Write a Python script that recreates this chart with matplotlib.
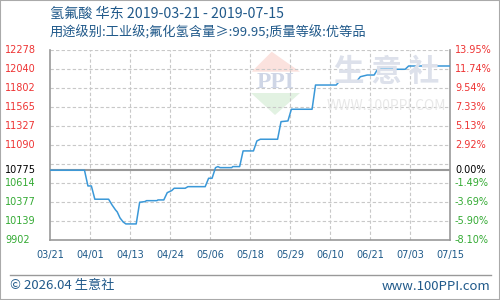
import numpy as np
import pandas as pd
import matplotlib
matplotlib.use("Agg")
import matplotlib.pyplot as plt
import matplotlib.dates as mdates
from matplotlib.patches import Polygon, Rectangle
from matplotlib.lines import Line2D

plt.rcParams['font.family'] = ['Noto Sans CJK SC', 'DejaVu Sans']

title = "氢氟酸 华东 2019-03-21 - 2019-07-15"
subtitle = "用途级别:工业级;氟化氢含量≥:99.95;质量等级:优等品"

# price points (day offset from 2019-03-21, price)
days = [0, 10, 11, 12, 13, 17, 18, 19, 19.5, 20.3, 21.2, 22, 25, 26, 27.5, 28, 31,
        31.3, 33, 34, 35.3, 36, 39.2, 40, 45, 46, 47, 48, 48.7, 49.3, 52.7, 53, 55,
        56, 59, 60, 61, 66, 67, 69, 70, 76, 77, 83, 84, 89, 90, 92, 94, 95, 103,
        104, 116]
prices = [10775, 10775, 10578, 10578, 10412, 10412, 10340, 10278, 10253, 10178,
          10128, 10103, 10103, 10374, 10382, 10394, 10394, 10403, 10403, 10494,
          10520, 10549, 10549, 10569, 10569, 10674, 10674, 10807, 10820, 10807,
          10807, 10820, 10820, 11016, 11016, 11141, 11162, 11162, 11382, 11391,
          11537, 11537, 11840, 11840, 11890, 11890, 11944, 11965, 11965, 12037,
          12037, 12078, 12078]

base = 10775
ymin, ymax = 9902, 12278
left_labels = ["12278", "12040", "11802", "11565", "11327", "11090",
               "10775", "10614", "10377", "10139", "9902"]
left_values = [12278, 12040, 11802, 11565, 11327, 11090, 10775, 10614, 10377, 10139, 9902]
right_labels = ["13.95%", "11.74%", "9.54%", "7.33%", "5.13%", "2.92%",
                "0.00%", "-1.49%", "-3.69%", "-5.90%", "-8.10%"]
xlabels = ["03/21", "04/01", "04/13", "04/24", "05/06", "05/18",
           "05/29", "06/10", "06/21", "07/03", "07/15"]

start = pd.Timestamp("2019-03-21")
end = pd.Timestamp("2019-07-15")
x = mdates.date2num(start) + np.array(days)
x0, x1 = mdates.date2num(start), mdates.date2num(end)

fig = plt.figure(figsize=(5, 3), dpi=100)
ax = fig.add_axes([0.1, 0.2, 0.8, 1 - 50 / 300 - 0.2])

# grid
for g in np.linspace(ymin, ymax, 11)[1:]:
    ax.axhline(g, color="#c8c8c8", lw=0.8, ls=(0, (3, 2)), zorder=1)
xt = np.linspace(x0, x1, 11)
for v in xt[1:-1]:
    ax.axvline(v, color="#c8c8c8", lw=0.8, ls=(0, (3, 2)), zorder=1)

# watermark (pixel coords, top-left origin)
def px(pts):
    return [[a, 300 - b] for a, b in pts]

ax.add_patch(Polygon(px([[251.7, 71.7], [300, 71.7], [271.7, 51.7]]), closed=True,
                     transform=None, fc="#fbe2de", ec="none", zorder=0))
ax.add_patch(Polygon(px([[251, 93], [300, 93], [275, 115]]), closed=True,
                     transform=None, fc="#e2f2e2", ec="none", zorder=0))
fig.text(276 / 500, 1 - 82 / 300, "PPI", color="#cfd6e6", fontsize=17,
         fontweight="bold", family="Liberation Serif", ha="center", va="center", zorder=0)
fig.text(387 / 500, 1 - 72 / 300, "生 意 社", color="#dde1eb", fontsize=22,
         fontweight="bold", ha="center", va="center", zorder=0)
fig.text(386 / 500, 1 - 106 / 300, "WWW.100PPI.COM", color="#e8e8e8", fontsize=10,
         ha="center", va="center", zorder=0)

ax.axhline(base, color="#999999", lw=1.5, zorder=2)
ax.plot(x, prices, color="#3a98d8", lw=1.1, zorder=3)

ax.set_xlim(x0, x1)
ax.set_ylim(ymin, ymax)
ax.set_xticks(xt)
ax.set_xticklabels(xlabels, fontsize=7, color="#1e5a8a", family="DejaVu Sans")
ax.tick_params(axis="x", length=0, pad=7)
ax.set_yticks([])
for s in ["left", "right", "bottom"]:
    ax.spines[s].set_color("#999999")
    ax.spines[s].set_linewidth(1.2)
ax.spines["top"].set_visible(False)
ax.patch.set_alpha(0)

trans_l = matplotlib.transforms.blended_transform_factory(fig.transFigure, ax.transData)
for v, lab in zip(left_values, left_labels):
    c = "#000000" if v == base else ("#ee3333" if v > base else "#33aa33")
    ax.text(5 / 500, v, lab, transform=trans_l, fontsize=7, color=c,
            ha="left", va="center", family="DejaVu Sans")
for v, lab in zip(left_values, right_labels):
    c = "#000000" if v == base else ("#ee3333" if v > base else "#33aa33")
    ax.text(455 / 500, v, lab, transform=trans_l, fontsize=7, color=c,
            ha="left", va="center", family="DejaVu Sans")

fig.text(50 / 500, 1 - 14 / 300, title, fontsize=10.2, color="#20598a", va="center")
fig.text(50 / 500, 1 - 33 / 300, subtitle, fontsize=9.5, color="#20598a", va="center")

# footer
fig.add_artist(Line2D([10 / 500, 491 / 500], [1 - 275 / 300] * 2, color="#999999", lw=1))
fig.text(10 / 500, 1 - 286 / 300, "© 2026.04 生意社", fontsize=9.5, color="#20598a", va="center")
fig.text(490 / 500, 1 - 286 / 300, "www.100PPI.com", fontsize=9.5, color="#20598a",
         va="center", ha="right")
fig.add_artist(Rectangle((0, 0), 1, 1, transform=fig.transFigure, fill=False,
                         ec="#aaaaaa", lw=1.5))

fig.savefig("out.png", dpi=100)
